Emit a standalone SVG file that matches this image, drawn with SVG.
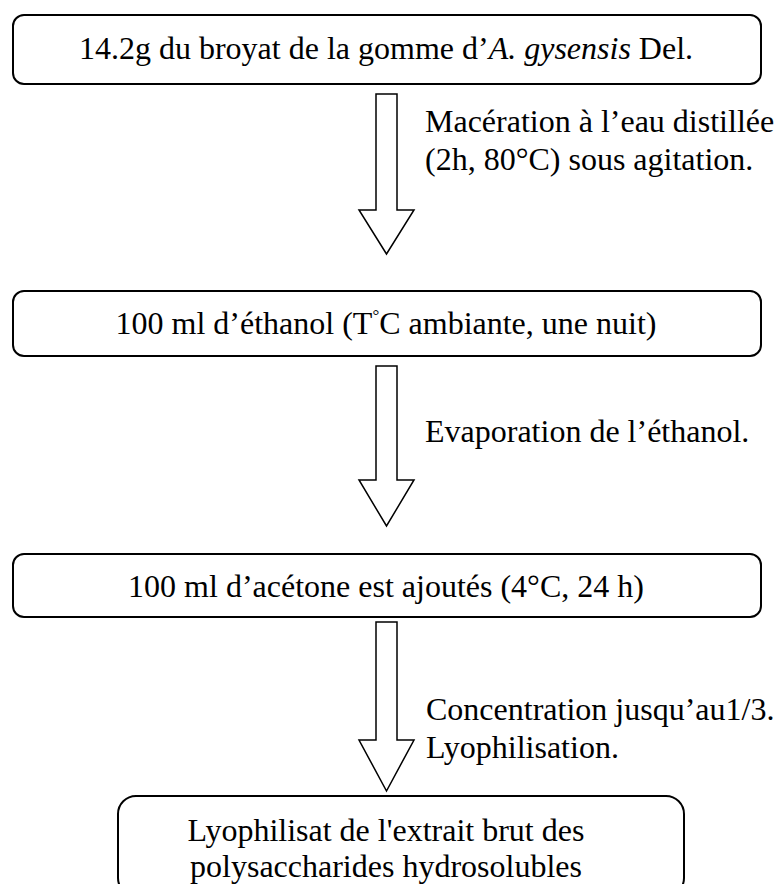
<svg xmlns="http://www.w3.org/2000/svg" width="776" height="884" viewBox="0 0 776 884">
<style>
.box{fill:#fff;stroke:#000;stroke-width:2}
.arr{fill:#fff;stroke:#000;stroke-width:1.5;stroke-linejoin:miter}
.t{font-family:'Liberation Serif','DejaVu Serif',serif;font-size:32px;fill:#000}
.c{text-anchor:middle}
</style>
<rect width="776" height="884" fill="#fff"/>
<g id="n1">
<rect class="box" x="13" y="15" width="748" height="69" rx="11"/>
<text class="t c" x="386" y="59">14.2g du broyat de la gomme d’<tspan font-style="italic">A. gysensis</tspan> Del.</text>
</g>
<g id="n2">
<rect class="box" x="13" y="291" width="748" height="65" rx="11"/>
<text class="t c" x="386" y="334">100 ml d’éthanol (T<tspan font-size="17" dy="-13">°</tspan><tspan dy="13">C ambiante, une nuit)</tspan></text>
</g>
<g id="n3">
<rect class="box" x="13" y="554" width="748" height="63" rx="11"/>
<text class="t c" x="386" y="597">100 ml d’acétone est ajoutés (4°C, 24 h)</text>
</g>
<g id="n4">
<rect class="box" x="118" y="796" width="566" height="100" rx="18"/>
<text class="t c" x="386" y="841">Lyophilisat de l'extrait brut des</text>
<text class="t c" x="386" y="877">polysaccharides hydrosolubles</text>
</g>
<g id="connectors">
<path class="arr" d="M376 94 H397 V210 H414 L386.5 254 L359 210 H376 Z"/>
<path class="arr" d="M376 366 H397 V480 H414 L386.5 526 L359 480 H376 Z"/>
<path class="arr" d="M376 622 H397 V740 H414 L386.5 791 L359 740 H376 Z"/>
<text class="t" x="425" y="132">Macération à l’eau distillée</text>
<text class="t" x="425" y="170">(2h, 80°C) sous agitation.</text>
<text class="t" x="425" y="442">Evaporation de l’éthanol.</text>
<text class="t" x="426" y="720">Concentration jusqu’au1/3.</text>
<text class="t" x="426" y="758">Lyophilisation.</text>
</g>
</svg>
